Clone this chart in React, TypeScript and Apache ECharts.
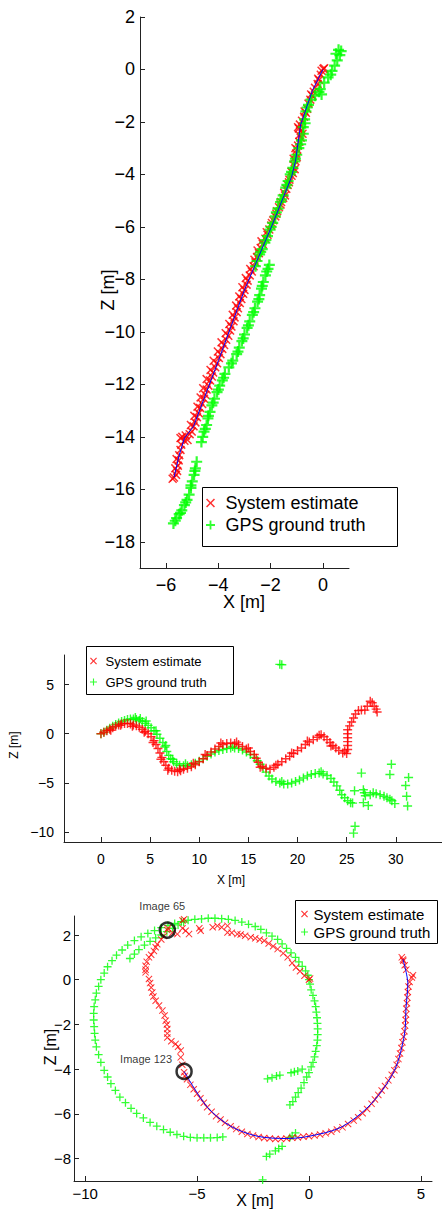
import React, { useEffect, useRef } from 'react';
import * as echarts from 'echarts';

const FONT = '"Liberation Sans", Arial, Helvetica, sans-serif';

// ---------- Chart 1 (top) ----------
const xTicks1 = [-6, -4, -2, 0];
const zTicks1 = [-18, -16, -14, -12, -10, -8, -6, -4, -2, 0, 2];
const estimate1: number[][] = [
  [0.02, 0.02], [-0.05, -0.05], [0.05, 0.05], [-0.08, -0.2], [-0.18, -0.35], [-0.2, -0.55], [-0.3, -0.7],
  [-0.35, -0.85], [-0.45, -0.95], [-0.48, -1.15], [-0.55, -1.3], [-0.6, -1.5], [-0.65, -1.65], [-0.72, -1.8],
  [-0.8, -1.95], [-0.88, -2.1], [-0.92, -2.25], [-0.82, -2.3], [-0.78, -2.45], [-0.85, -2.6], [-0.9, -2.75],
  [-0.95, -2.9], [-0.98, -3.05], [-1.02, -3.2], [-1.0, -3.35], [-1.05, -3.5], [-1.1, -3.65], [-1.08, -3.8],
  [-1.15, -3.95], [-1.2, -4.05], [-1.28, -4.2], [-1.35, -4.4], [-1.4, -4.55], [-1.48, -4.7], [-1.52, -4.9],
  [-1.6, -5.05], [-1.68, -5.25], [-1.75, -5.4], [-1.82, -5.6], [-1.9, -5.75], [-1.98, -5.95], [-2.05, -6.1],
  [-2.12, -6.3], [-2.2, -6.45], [-2.3, -6.65], [-2.38, -6.8], [-2.45, -7.0], [-2.52, -7.15], [-2.58, -7.35],
  [-2.65, -7.5], [-2.72, -7.7], [-2.8, -7.85], [-2.88, -8.05], [-2.92, -8.2], [-3.0, -8.4], [-3.05, -8.55],
  [-3.12, -8.75], [-3.18, -8.9], [-3.25, -9.1], [-3.3, -9.25], [-3.38, -9.45], [-3.42, -9.6], [-3.5, -9.8],
  [-3.55, -9.95], [-3.62, -10.15], [-3.7, -10.3], [-3.78, -10.5], [-3.85, -10.65], [-3.92, -10.85],
  [-3.98, -11.0], [-4.05, -11.2], [-4.12, -11.35], [-4.2, -11.55], [-4.25, -11.7], [-4.32, -11.85],
  [-4.38, -12.05], [-4.45, -12.2], [-4.5, -12.4], [-4.55, -12.55], [-4.62, -12.75], [-4.7, -12.9],
  [-4.75, -13.1], [-4.82, -13.25], [-4.88, -13.45], [-4.95, -13.6], [-5.02, -13.8], [-5.1, -13.9],
  [-5.25, -13.95], [-5.38, -14.0], [-5.3, -14.15], [-5.18, -14.12], [-5.42, -14.3], [-5.45, -14.5],
  [-5.5, -14.7], [-5.52, -14.9], [-5.55, -15.1], [-5.58, -15.3], [-5.62, -15.45], [-5.7, -15.55], [-5.75, -15.6],
  [-0.15, -0.4], [-0.4, -1.0], [-0.7, -1.6], [-0.95, -2.2], [-0.9, -2.5], [-1.05, -3.0], [-1.12, -3.4],
  [-1.2, -3.9], [-1.3, -4.3], [-1.45, -4.8], [-1.62, -5.15], [-1.78, -5.5], [-1.95, -5.85], [-2.15, -6.2],
  [-2.35, -6.55], [-2.5, -6.9], [-2.62, -7.25], [-2.78, -7.6], [-2.95, -7.95], [-3.08, -8.3], [-3.2, -8.65],
  [-3.32, -9.0], [-3.45, -9.35], [-3.58, -9.7], [-3.72, -10.05], [-3.88, -10.4], [-4.02, -10.75],
  [-4.18, -11.1], [-4.3, -11.45], [-4.45, -11.8], [-4.58, -12.15], [-4.68, -12.5], [-4.8, -12.85],
  [-4.92, -13.2], [-5.05, -13.55], [-5.45, -14.05], [-5.6, -14.85], [-5.65, -15.2],
];
const gps1: number[][] = [
  [0.6, 0.75], [0.65, 0.55], [0.55, 0.35], [0.45, 0.15], [0.35, -0.05], [0.2, -0.3], [0.05, -0.5], [-0.1, -0.75],
  [-0.05, -0.95], [-0.3, -1.0], [-0.45, -1.15], [-0.55, -1.35], [-0.65, -1.6], [-0.7, -1.9], [-0.75, -2.2],
  [-0.75, -2.45], [-0.82, -2.7], [-0.92, -3.0], [-1.0, -3.25], [-1.08, -3.5], [-1.15, -3.75], [-1.25, -4.0],
  [-1.33, -4.25], [-1.42, -4.5], [-1.52, -4.8], [-1.62, -5.05], [-1.72, -5.3], [-1.82, -5.6], [-1.92, -5.85],
  [-2.02, -6.1], [-2.12, -6.35], [-2.22, -6.6], [-2.32, -6.85], [-2.42, -7.05], [-2.52, -7.3], [-2.58, -7.5],
  [-2.05, -7.45], [-2.1, -7.6], [-2.2, -7.85], [-2.28, -8.1], [-2.35, -8.35], [-2.42, -8.6], [-2.5, -8.85],
  [-2.6, -9.1], [-2.7, -9.35], [-2.8, -9.6], [-2.9, -9.85], [-3.0, -10.1], [-3.1, -10.35], [-3.2, -10.6],
  [-3.3, -10.85], [-3.45, -11.1], [-3.6, -11.35], [-3.75, -11.6], [-3.85, -11.85], [-3.95, -12.05],
  [-4.05, -12.3], [-4.15, -12.55], [-4.25, -12.8], [-4.32, -13.05], [-4.4, -13.3], [-4.45, -13.55],
  [-4.55, -13.8], [-4.6, -14.0], [-4.65, -14.2],
  [-4.83, -14.95], [-4.88, -15.2], [-4.93, -15.45], [-5.0, -15.7], [-5.05, -15.95], [-5.12, -16.2],
  [-5.2, -16.4], [-5.3, -16.6], [-5.4, -16.8], [-5.5, -16.95], [-5.6, -17.1], [-5.72, -17.3],
  [0.5, 0.6], [0.7, 0.7], [0.3, -0.2], [-0.15, -0.85], [-0.6, -1.45], [-0.68, -2.05], [-0.85, -2.85],
  [-1.05, -3.4], [-1.2, -3.9], [-1.38, -4.4], [-1.58, -4.95], [-1.78, -5.45], [-1.98, -6.0], [-2.18, -6.5],
  [-2.38, -6.95], [-2.15, -7.7], [-2.32, -8.25], [-2.45, -8.75], [-2.65, -9.25], [-2.85, -9.75],
  [-3.05, -10.25], [-3.25, -10.75], [-3.5, -11.2], [-3.8, -11.75], [-4.0, -12.2], [-4.2, -12.7],
  [-4.38, -13.2], [-4.5, -13.7], [-4.9, -15.3], [-5.05, -15.85], [-5.25, -16.5], [-5.45, -16.9], [-5.65, -17.2],
];
const estPath1: number[][] = [
  [0, 0], [-0.4, -0.8], [-0.85, -2.1], [-1.05, -3.5], [-1.2, -4.1], [-1.95, -5.95], [-3.0, -8.4],
  [-4.0, -11.1], [-4.95, -13.6], [-5.3, -14.05], [-5.5, -14.7], [-5.7, -15.55],
];

// ---------- Chart 2 (middle) ----------
const xTicks2 = [0, 5, 10, 15, 20, 25, 30];
const zTicks2 = [-10, -5, 0, 5];
const estimate2: number[][] = [
  [0, 0], [0.3, 0.15], [0.6, 0.3], [0.9, 0.45], [1.2, 0.6], [1.5, 0.75], [1.8, 0.9], [2.1, 1.0], [2.4, 1.05],
  [2.7, 1.05], [3.0, 1.0], [3.3, 0.9], [3.6, 0.8], [3.9, 0.65], [4.2, 0.45], [4.5, 0.25], [4.8, 0.0],
  [5.1, -0.3], [5.4, -0.7], [5.6, -1.1], [5.8, -1.5], [6.0, -1.95], [6.2, -2.4], [6.4, -2.85], [6.6, -3.2],
  [6.9, -3.5], [7.2, -3.7], [7.5, -3.8], [7.8, -3.85], [8.1, -3.75], [8.4, -3.6], [8.8, -3.5], [9.2, -3.35],
  [9.6, -3.15], [10.0, -2.85], [10.4, -2.55], [10.8, -2.2], [11.2, -1.85], [11.6, -1.55], [12.0, -1.3],
  [12.4, -1.1], [12.8, -1.0], [13.2, -0.95], [13.6, -1.0], [14.0, -1.1], [14.4, -1.3], [14.8, -1.55],
  [15.2, -1.8], [15.6, -2.1], [15.8, -2.5], [16.0, -2.9], [16.4, -3.3], [16.8, -3.5], [17.2, -3.6],
  [17.6, -3.4], [18.0, -3.1], [18.4, -2.85], [18.8, -2.55], [19.2, -2.3], [19.6, -2.0], [20.0, -1.7],
  [20.4, -1.45], [20.8, -1.1], [21.2, -0.85], [21.6, -0.6], [22.0, -0.35], [22.4, -0.1], [22.7, -0.3],
  [23.0, -0.6], [23.3, -0.9], [23.6, -1.2], [23.9, -1.45], [24.2, -1.7], [24.6, -1.95], [25.0, -2.0],
  [25.1, -1.6], [25.1, -1.2], [25.1, -0.8], [25.1, -0.4], [25.1, 0.0], [25.1, 0.4], [25.3, 0.8], [25.5, 1.2],
  [25.7, 1.6], [25.9, 2.0], [26.2, 2.35], [26.5, 2.4], [26.85, 2.4], [27.1, 2.8], [27.4, 3.3], [27.6, 3.15],
  [27.8, 2.8], [28.0, 2.5], [28.1, 2.2],
  [1.0, 0.35], [2.0, 0.85], [3.2, 0.75], [4.4, 0.15], [5.3, -0.9], [6.1, -2.6], [6.8, -3.7], [8.0, -3.6],
  [9.4, -3.0], [10.6, -2.1], [12.2, -0.95], [13.8, -0.85], [15.0, -1.45], [16.2, -3.4], [17.8, -3.2],
  [19.4, -1.95], [21.0, -0.75], [22.2, -0.15], [23.4, -1.25], [24.8, -1.75],
];
const gps2: number[][] = [
  [0, 0], [0.3, 0.15], [0.6, 0.35], [0.9, 0.55], [1.2, 0.75], [1.5, 0.95], [1.8, 1.1], [2.1, 1.25], [2.4, 1.35],
  [2.7, 1.45], [3.0, 1.5], [3.3, 1.5], [3.6, 1.45], [3.9, 1.35], [4.2, 1.25], [4.5, 1.05], [4.8, 0.85],
  [5.1, 0.6], [5.4, 0.3], [5.7, -0.05], [6.0, -0.45], [6.3, -0.9], [6.5, -1.35], [6.7, -1.8], [6.9, -2.2],
  [7.1, -2.55], [7.4, -2.85], [7.7, -3.05], [8.0, -3.2], [8.4, -3.25], [8.8, -3.25], [9.2, -3.15], [9.6, -3.0],
  [10.0, -2.8], [10.4, -2.55], [10.8, -2.3], [11.2, -2.05], [11.6, -1.85], [12.0, -1.7], [12.4, -1.6],
  [12.8, -1.5], [13.2, -1.45], [13.6, -1.45], [14.0, -1.5], [14.4, -1.65], [14.8, -1.85], [15.2, -2.1],
  [15.6, -2.4], [15.9, -2.75], [16.2, -3.1], [16.5, -3.5], [16.8, -3.9], [17.1, -4.3], [17.4, -4.6],
  [17.8, -4.85], [18.2, -5.0], [18.6, -5.1], [19.0, -5.1], [19.4, -5.0], [19.8, -4.85], [20.2, -4.7],
  [20.6, -4.5], [21.0, -4.3], [21.4, -4.15], [21.8, -4.05], [22.2, -4.0], [22.6, -4.1], [23.0, -4.25],
  [23.4, -4.55], [23.7, -4.9], [24.0, -5.3], [24.3, -5.75], [24.5, -6.2], [24.8, -6.5], [25.1, -6.8],
  [25.4, -7.0], [25.6, -7.05],
  [3.5, 1.65], [4.0, 1.55], [4.6, 1.3], [5.6, 0.3], [6.6, -1.2], [7.3, -2.6], [8.6, -3.05], [13.4, -1.3],
  [18.4, -4.85], [22.4, -3.85],
  [18.2, 7.05], [18.4, 7.0], [26.5, -4.0], [25.8, -5.8], [26.7, -5.7], [26.8, -6.0], [26.9, -6.3], [26.7, -7.0],
  [27.2, -7.3], [25.85, -9.4], [25.7, -10.1], [27.7, -6.0], [28.0, -6.1], [28.4, -6.2], [28.8, -6.35],
  [29.1, -6.5], [29.4, -6.65], [29.6, -6.8], [29.9, -7.1], [27.4, -6.2], [29.55, -3.1], [29.4, -4.15],
  [31.3, -4.45], [31.0, -5.25], [31.1, -6.35], [31.2, -7.35],
];

// ---------- Chart 3 (bottom) ----------
const xTicks3 = [-10, -5, 0, 5];
const zTicks3 = [-8, -6, -4, -2, 0, 2];
const estimate3: number[][] = [
  [0, 0], [0.05, 0.05], [-0.2, 0.18], [-0.4, 0.38], [-0.58, 0.55], [-0.75, 0.75], [-0.95, 1.0], [-1.15, 1.18],
  [-1.4, 1.37], [-1.6, 1.5], [-1.8, 1.62], [-2.0, 1.74], [-2.2, 1.8], [-2.4, 1.85], [-2.6, 1.9], [-2.85, 1.97],
  [-3.05, 2.02], [-3.2, 2.04], [-3.45, 2.1], [-3.64, 2.11], [-3.64, 2.41], [-3.9, 2.35], [-4.09, 2.41],
  [-4.3, 2.35], [-4.84, 2.19], [-4.9, 2.3], [-5.36, 2.04], [-5.51, 2.19], [-5.65, 2.3], [-5.58, 2.71],
  [-5.65, 2.65], [-5.88, 2.04], [-6.1, 2.1], [-6.33, 2.22], [-6.3, 2.3],
  [-6.48, 1.96], [-6.6, 1.8], [-6.78, 1.59], [-6.85, 1.45], [-6.93, 1.29], [-7.05, 1.12], [-7.15, 1.0],
  [-7.25, 0.8], [-7.3, 0.62], [-7.3, 0.45], [-7.3, 0.33], [-7.15, 0.03], [-7.1, -0.15], [-7.05, -0.35],
  [-7.0, -0.57], [-6.95, -0.75], [-6.85, -0.94], [-6.7, -1.15], [-6.55, -1.38], [-6.45, -1.6],
  [-6.4, -1.83], [-6.35, -2.0], [-6.33, -2.2], [-6.33, -2.4], [-6.33, -2.58], [-6.15, -2.75], [-5.96, -2.87],
  [-5.85, -3.0], [-5.73, -3.17], [-5.73, -3.47], [-5.66, -3.8], [-5.58, -4.14], [-5.55, -4.3],
  [-5.45, -4.45], [-5.3, -4.7], [-5.15, -4.9], [-5.0, -5.1], [-4.85, -5.3], [-4.7, -5.5], [-4.55, -5.7],
  [-4.35, -5.9], [-4.15, -6.1], [-3.95, -6.25], [-3.75, -6.4], [-3.5, -6.55], [-3.25, -6.68], [-3.0, -6.8],
  [-2.75, -6.9], [-2.5, -6.97], [-2.25, -7.03], [-2.0, -7.08], [-1.75, -7.1], [-1.5, -7.12], [-1.25, -7.12],
  [-1.0, -7.1], [-0.75, -7.07], [-0.5, -7.05], [-0.25, -7.02], [0.0, -7.0], [0.25, -6.97], [0.5, -6.92],
  [0.75, -6.87], [1.0, -6.8], [1.25, -6.7], [1.5, -6.6], [1.75, -6.45], [2.0, -6.3], [2.2, -6.15],
  [2.4, -5.97], [2.6, -5.78], [2.8, -5.55], [2.95, -5.35], [3.1, -5.15], [3.25, -4.95], [3.4, -4.75],
  [3.55, -4.5], [3.7, -4.25], [3.82, -4.05], [3.92, -3.8], [4.0, -3.55], [4.07, -3.3], [4.13, -3.05],
  [4.18, -2.8], [4.23, -2.55], [4.27, -2.3], [4.3, -2.05], [4.32, -1.8], [4.34, -1.55], [4.35, -1.3],
  [4.38, -1.05], [4.4, -0.8], [4.42, -0.55], [4.45, -0.3], [4.5, -0.1], [4.6, 0.1], [4.65, 0.2],
  [4.35, 0.45], [4.28, 0.65], [4.22, 0.85], [4.15, 1.0], [4.2, 0.9],
];
const gps3: number[][] = [
  [0, 0], [-0.05, 0.2], [-0.15, 0.4], [-0.3, 0.6], [-0.45, 0.8], [-0.6, 1.0], [-0.8, 1.2], [-1.0, 1.4],
  [-1.2, 1.6], [-1.4, 1.8], [-1.65, 1.95], [-1.9, 2.1], [-2.15, 2.25], [-2.4, 2.38], [-2.7, 2.48],
  [-3.0, 2.58], [-3.3, 2.65], [-3.6, 2.7], [-3.9, 2.73], [-4.2, 2.75], [-4.5, 2.75], [-4.8, 2.72],
  [-5.1, 2.7], [-5.4, 2.66], [-5.7, 2.6], [-6.0, 2.52], [-6.3, 2.43], [-6.6, 2.33], [-6.9, 2.2],
  [-7.2, 2.07], [-7.5, 1.92], [-7.8, 1.75], [-8.1, 1.55], [-8.35, 1.33], [-8.6, 1.1], [-8.8, 0.85],
  [-9.0, 0.58], [-9.15, 0.3], [-9.3, 0.0], [-9.4, -0.3], [-9.5, -0.6], [-9.55, -0.9], [-9.6, -1.2],
  [-9.62, -1.5], [-9.62, -1.8], [-9.6, -2.1], [-9.58, -2.4], [-9.55, -2.7], [-9.5, -3.0], [-9.4, -3.35],
  [-9.3, -3.7], [-9.15, -4.05], [-9.0, -4.35], [-8.85, -4.65], [-8.65, -4.95], [-8.45, -5.25], [-8.2, -5.5],
  [-7.95, -5.75], [-7.7, -5.98], [-7.4, -6.18], [-7.1, -6.38], [-6.8, -6.55], [-6.5, -6.7], [-6.2, -6.82],
  [-5.9, -6.92], [-5.6, -7.0], [-5.3, -7.05], [-5.0, -7.07], [-4.7, -7.07], [-4.4, -7.07], [-4.1, -7.06],
  [-3.85, -7.03],
  [-8.0, 0.95], [-7.8, 1.15], [-7.6, 1.35], [-7.35, 1.55], [-7.1, 1.72], [-6.85, 1.87], [-6.6, 2.0],
  [-6.35, 2.15], [-6.1, 2.3], [-5.85, 2.45], [-5.6, 2.58],
  [0.05, -0.2], [0.1, -0.45], [0.18, -0.7], [0.25, -0.95], [0.3, -1.2], [0.33, -1.45], [0.36, -1.7],
  [0.38, -1.95], [0.39, -2.2], [0.39, -2.45], [0.38, -2.7], [0.35, -2.95], [0.3, -3.2], [0.25, -3.45],
  [0.18, -3.7], [0.1, -3.9], [0.0, -4.15], [-0.1, -4.35], [-0.22, -4.6], [-0.35, -4.85], [-0.48, -5.05],
  [-0.6, -5.25], [-0.72, -5.45], [-0.85, -5.6],
  [-1.85, -4.43], [-1.65, -4.38], [-1.45, -4.3], [-1.3, -4.27], [-0.8, -4.16], [-0.65, -4.12], [-0.5, -4.08],
  [-0.3, -4.0],
  [-0.6, -6.85], [-0.75, -6.98], [-0.85, -7.05], [-1.2, -7.45], [-1.35, -7.55], [-1.5, -7.65], [-1.75, -7.8],
  [-1.9, -7.9], [-2.07, -8.95],
];
const estPath3: number[][] = [
  [-5.58, -4.1], [-4.54, -5.7], [-3.5, -6.55], [-2.3, -7.0], [-1.0, -7.1], [0.0, -7.0], [1.43, -6.6],
  [2.78, -5.55], [3.82, -4.06], [4.27, -2.43], [4.34, -1.24], [4.42, -0.19], [4.2, 0.92],
];
const imageNames = ['Image 65', 'Image 123'];
const imagePoints: number[][] = [[-6.33, 2.22], [-5.58, -4.1]];

const seriesNames = ['System estimate', 'GPS ground truth'];

// ---------- symbols ----------
const PLUS = 'path://M4,0H6V4H10V6H6V10H4V6H0V4H4Z';
const PLUS_MID = 'path://M4.2,0H5.8V4.2H10V5.8H5.8V10H4.2V5.8H0V4.2H4.2Z';
const CROSS = 'path://M0,1.2L1.2,0L5,3.8L8.8,0L10,1.2L6.2,5L10,8.8L8.8,10L5,6.2L1.2,10L0,8.8L3.8,5Z';
const CROSS_THIN = 'path://M0,1L1,0L5,4L9,0L10,1L6,5L10,9L9,10L5,6L1,10L0,9L4,5Z';
const RED = '#ff0000';
const GREEN = '#00ff00';
const BLUE = '#0000ff';

const minus = (v: number) => String(v).replace('-', '\u2212');

function makeAxis(min: number, max: number, ticks: number[], fontSize: number, margin: number, gi: number) {
  return {
    type: 'value',
    gridIndex: gi,
    min,
    max,
    axisLine: { show: true, onZero: false, lineStyle: { color: '#222', width: 1 } },
    axisTick: { show: true, inside: true, length: 5, customValues: ticks, lineStyle: { color: '#222', width: 1 } },
    splitLine: { show: false },
    axisLabel: {
      customValues: ticks,
      color: '#000',
      fontFamily: FONT,
      fontSize,
      margin,
      formatter: (v: number) => minus(v),
    },
  };
}

function legendFor(left: number, top: number, iw: number, ih: number, gap: number, fs: number, lh: number, crossIcon: string, plusIcon: string) {
  return {
    show: true,
    orient: 'vertical',
    left,
    top,
    padding: 0,
    itemWidth: iw,
    itemHeight: ih,
    itemGap: gap,
    selectedMode: false,
    z: 20,
    textStyle: { fontFamily: FONT, fontSize: fs, color: '#000', lineHeight: lh },
    data: [
      { name: seriesNames[0], icon: crossIcon },
      { name: seriesNames[1], icon: plusIcon },
    ],
  };
}

function boxRect(x1: number, y1: number, x2: number, y2: number) {
  return {
    type: 'rect',
    z: 15,
    shape: { x: x1 + 0.5, y: y1 + 0.5, width: x2 - x1, height: y2 - y1 },
    style: { fill: '#fff', stroke: '#000', lineWidth: 1 },
  };
}

function axisText(text: string, x: number, y: number, fs: number, rotate: boolean) {
  return {
    type: 'text',
    z: 5,
    x,
    y,
    rotation: rotate ? Math.PI / 2 : 0,
    style: {
      text,
      fill: '#000',
      font: `${fs}px ${FONT}`,
      align: 'center',
      verticalAlign: 'middle',
    },
  };
}

export default function App() {
  const ref = useRef<HTMLDivElement>(null);

  useEffect(() => {
    if (!ref.current) return;
    const chart = echarts.init(ref.current, undefined, { renderer: 'svg' });

    const option: any = {
      animation: false,
      backgroundColor: '#fff',
      grid: [
        { left: 140, top: 17, width: 209, height: 551 },
        { left: 64, top: 655, width: 378, height: 187 },
        { left: 74, top: 916, width: 358, height: 265 },
      ],
      xAxis: [
        makeAxis(-7, 1, xTicks1, 18, 8, 0),
        makeAxis(-3.76, 34.7, xTicks2, 14, 10, 1),
        makeAxis(-10.5, 5.5, xTicks3, 15, 5, 2),
      ],
      yAxis: [
        makeAxis(-19, 2, zTicks1, 18, 5, 0),
        makeAxis(-11, 8, zTicks2, 14, 10, 1),
        makeAxis(-9, 2.85, zTicks3, 15, 3, 2),
      ],
      legend: [
        legendFor(206, 494, 20, 9, 4, 18, 18, CROSS, PLUS),
        legendFor(90, 654, 14, 7, 7, 13, 14, CROSS, PLUS_MID),
        legendFor(301, 906, 8, 7, 2, 15, 16, CROSS, PLUS_MID),
      ],
      graphic: [
        boxRect(202, 487, 397, 546),
        boxRect(86, 646, 233, 694),
        boxRect(295, 900, 437, 943),
        axisText('X [m]', 244, 602, 18, false),
        axisText('Z [m]', 108, 290, 18, true),
        axisText('X [m]', 231, 880, 12, false),
        axisText('Z [m]', 14, 745, 12, true),
        axisText('X [m]', 255, 1200, 16, false),
        axisText('Z [m]', 50, 1047, 16, true),
      ],
      series: [
        // chart 1
        {
          type: 'scatter', name: seriesNames[0], xAxisIndex: 0, yAxisIndex: 0, data: estimate1,
          symbol: CROSS, symbolSize: 9, itemStyle: { color: RED }, silent: true,
        },
        {
          type: 'line', name: 'path1', xAxisIndex: 0, yAxisIndex: 0, data: estPath1, showSymbol: false,
          lineStyle: { color: BLUE, width: 1 }, silent: true,
        },
        {
          type: 'scatter', name: seriesNames[1], xAxisIndex: 0, yAxisIndex: 0, data: gps1,
          symbol: PLUS, symbolSize: 11, itemStyle: { color: GREEN }, silent: true,
        },
        // chart 2
        {
          type: 'scatter', name: seriesNames[1], xAxisIndex: 1, yAxisIndex: 1, data: gps2,
          symbol: PLUS_MID, symbolSize: 9, itemStyle: { color: GREEN }, silent: true,
        },
        {
          type: 'scatter', name: seriesNames[0], xAxisIndex: 1, yAxisIndex: 1, data: estimate2,
          symbol: PLUS_MID, symbolSize: 9, itemStyle: { color: RED }, silent: true,
        },
        // chart 3
        {
          type: 'scatter', name: seriesNames[1], xAxisIndex: 2, yAxisIndex: 2, data: gps3,
          symbol: PLUS_MID, symbolSize: 8, itemStyle: { color: GREEN }, silent: true,
        },
        {
          type: 'scatter', name: seriesNames[0], xAxisIndex: 2, yAxisIndex: 2, data: estimate3,
          symbol: CROSS_THIN, symbolSize: 7, itemStyle: { color: RED }, silent: true,
        },
        {
          type: 'line', name: 'path3', xAxisIndex: 2, yAxisIndex: 2, data: estPath3, showSymbol: false,
          smooth: 0.3, lineStyle: { color: BLUE, width: 1 }, silent: true,
        },
        {
          type: 'scatter', name: 'images', xAxisIndex: 2, yAxisIndex: 2,
          data: imagePoints.map((p, i) => ({
            name: imageNames[i],
            value: p,
            label: { offset: i === 0 ? [-5, -5] : [-38, 7] },
          })),
          symbol: 'circle', symbolSize: 15,
          itemStyle: { color: 'rgba(0,0,0,0)', borderColor: '#000', borderWidth: 2.5 },
          label: {
            show: true, position: 'top', formatter: '{b}', color: '#000',
            fontFamily: FONT, fontSize: 11,
          },
          silent: true, z: 4,
        },
      ],
    };

    chart.setOption(option);
    return () => chart.dispose();
  }, []);

  return (
    <div
      ref={ref}
      style={{ position: 'absolute', left: 0, top: 0, width: 442, height: 1209, background: '#fff' }}
    />
  );
}
